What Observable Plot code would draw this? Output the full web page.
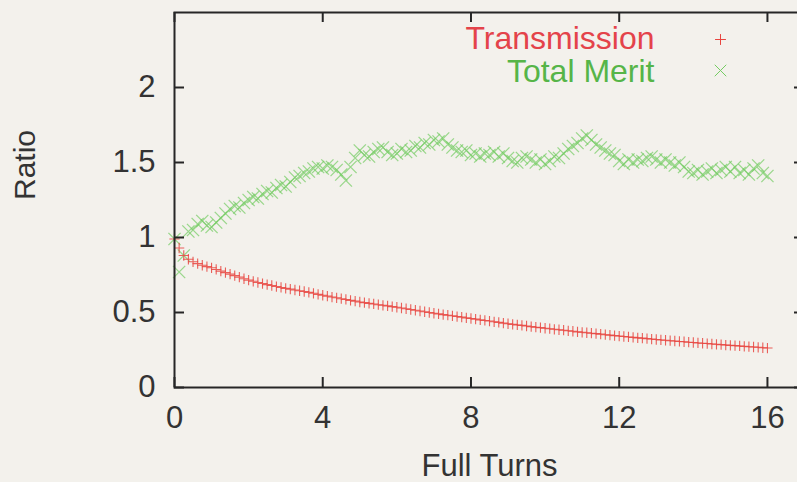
<!DOCTYPE html>
<html>
<head>
<meta charset="utf-8">
<script src="https://cdn.jsdelivr.net/npm/d3@7"></script>
<script src="https://cdn.jsdelivr.net/npm/@observablehq/plot@0.6"></script>
<style>
  html, body { margin: 0; padding: 0; background: #f3f1ec; overflow: hidden; }
</style>
</head>
<body>
<div id="chart"></div>
<script>
const xTicks = [0, 4, 8, 12, 16];
const yTicks = [0, 0.5, 1, 1.5, 2];
const yTickLabels = ["0", "0.5", "1", "1.5", "2"];
const turnStep = 0.125;

const transmission = [
  0.99, 0.93, 0.88, 0.855, 0.838, 0.826, 0.815, 0.806,
  0.798, 0.787, 0.776, 0.766, 0.756, 0.746, 0.736, 0.725,
  0.716, 0.708, 0.700, 0.693, 0.686, 0.680, 0.673, 0.667,
  0.661, 0.656, 0.650, 0.645, 0.640, 0.634, 0.628, 0.621,
  0.615, 0.609, 0.603, 0.598, 0.592, 0.587, 0.581, 0.576,
  0.570, 0.566, 0.561, 0.557, 0.552, 0.548, 0.544, 0.539,
  0.535, 0.530, 0.525, 0.520, 0.515, 0.510, 0.505, 0.500,
  0.495, 0.491, 0.486, 0.482, 0.478, 0.473, 0.469, 0.464,
  0.460, 0.456, 0.451, 0.447, 0.443, 0.438, 0.434, 0.429,
  0.425, 0.421, 0.417, 0.414, 0.410, 0.406, 0.402, 0.399,
  0.395, 0.392, 0.388, 0.385, 0.382, 0.378, 0.375, 0.371,
  0.368, 0.365, 0.362, 0.359, 0.356, 0.352, 0.349, 0.346,
  0.343, 0.340, 0.337, 0.334, 0.331, 0.329, 0.326, 0.323,
  0.320, 0.317, 0.315, 0.312, 0.310, 0.307, 0.305, 0.302,
  0.300, 0.297, 0.295, 0.293, 0.290, 0.288, 0.286, 0.283,
  0.281, 0.279, 0.277, 0.274, 0.272, 0.270, 0.268, 0.265,
  0.263
];

const totalMerit = [
  0.99, 0.77, 0.88, 1.04, 1.05, 1.09, 1.11, 1.08,
  1.07, 1.10, 1.13, 1.16, 1.19, 1.21, 1.20, 1.23,
  1.25, 1.27, 1.26, 1.29, 1.31, 1.30, 1.33, 1.35,
  1.34, 1.37, 1.40, 1.41, 1.43, 1.44, 1.46, 1.47,
  1.46, 1.48, 1.47, 1.45, 1.42, 1.38, 1.47, 1.53,
  1.58, 1.55, 1.54, 1.57, 1.59, 1.60, 1.57, 1.55,
  1.56, 1.59, 1.57, 1.58, 1.61, 1.60, 1.63, 1.62,
  1.65, 1.64, 1.66, 1.62, 1.60, 1.58, 1.57, 1.58,
  1.55, 1.56, 1.54, 1.56, 1.55, 1.57, 1.54, 1.56,
  1.53, 1.51, 1.50, 1.53, 1.54, 1.52, 1.50, 1.52,
  1.49, 1.51, 1.54, 1.53, 1.56, 1.59, 1.61, 1.63,
  1.66, 1.68, 1.65, 1.62, 1.60, 1.58, 1.56, 1.55,
  1.51, 1.49, 1.52, 1.50, 1.52, 1.51, 1.53, 1.54,
  1.52, 1.50, 1.52, 1.50, 1.48, 1.50, 1.47, 1.44,
  1.43, 1.45, 1.42, 1.44, 1.46, 1.43, 1.45, 1.47,
  1.44, 1.47, 1.43, 1.45, 1.42, 1.46, 1.48, 1.43,
  1.41
];

const seriesNames = ["Transmission", "Total Merit"];

const transData = transmission.map((v, i) => ({turns: i * turnStep, ratio: v}));
const meritData = totalMerit.map((v, i) => ({turns: i * turnStep, ratio: v}));

const W = 797, H = 482;
const mL = 174, mR = -7, mT = 12, mB = 95;
const innerW = W - mL - mR, innerH = H - mT - mB;
const tickLen = 10;
const ink = "#262626";
const font = "'Liberation Sans', Arial, Helvetica, sans-serif";

const chart = Plot.plot({
  width: W,
  height: H,
  marginLeft: mL,
  marginRight: mR,
  marginTop: mT,
  marginBottom: mB,
  style: {background: "#f3f1ec", fontFamily: font, color: "#333"},
  x: {domain: [0, 17]},
  y: {domain: [0, 2.5]},
  marks: [
    Plot.dot(meritData, {x: "turns", y: "ratio", symbol: "times", r: 5.6, stroke: "#74cc62", strokeWidth: 1.3, strokeOpacity: 0.7}),
    Plot.dot(transData, {x: "turns", y: "ratio", symbol: "plus", r: 3.4, stroke: "#e8453f", strokeWidth: 1.1, strokeOpacity: 0.85}),
    Plot.frame({stroke: ink, strokeWidth: 2}),
    Plot.tickX(xTicks, {x: d => d, insetTop: innerH - tickLen, stroke: ink, strokeWidth: 2}),
    Plot.tickX(xTicks, {x: d => d, insetBottom: innerH - tickLen, stroke: ink, strokeWidth: 2}),
    Plot.tickY(yTicks, {y: d => d, insetRight: innerW - tickLen, stroke: ink, strokeWidth: 2}),
    Plot.tickY(yTicks, {y: d => d, insetLeft: innerW - tickLen, stroke: ink, strokeWidth: 2}),
    Plot.axisX(xTicks, {anchor: "bottom", tickSize: 0, tickPadding: 18, fontSize: 31, label: null, fill: "#333"}),
    Plot.axisY(yTicks, {anchor: "left", tickSize: 0, tickPadding: 19, fontSize: 31, label: null, fill: "#333",
      tickFormat: d => yTickLabels[yTicks.indexOf(d)]}),
    Plot.text(["Full Turns"], {frameAnchor: "bottom", dy: 88, lineAnchor: "bottom", fontSize: 31, fill: "#333"}),
    Plot.text(["Ratio"], {frameAnchor: "left", dx: -149, rotate: -90, fontSize: 30, fill: "#333"}),
    Plot.text([seriesNames[0]], {frameAnchor: "top-right", dx: -150, dy: 36, textAnchor: "end", lineAnchor: "bottom", fontSize: 32, fill: "#e4434a"}),
    Plot.text([seriesNames[1]], {frameAnchor: "top-right", dx: -150, dy: 69, textAnchor: "end", lineAnchor: "bottom", fontSize: 32, fill: "#56b548"}),
    Plot.dot([seriesNames[0]], {frameAnchor: "top-right", dx: -84, dy: 27, symbol: "plus", r: 3.6, stroke: "#e8453f", strokeWidth: 1}),
    Plot.dot([seriesNames[1]], {frameAnchor: "top-right", dx: -84, dy: 58, symbol: "times", r: 5.3, stroke: "#74cc62", strokeWidth: 1})
  ]
});

document.getElementById("chart").appendChild(chart);
</script>
</body>
</html>
